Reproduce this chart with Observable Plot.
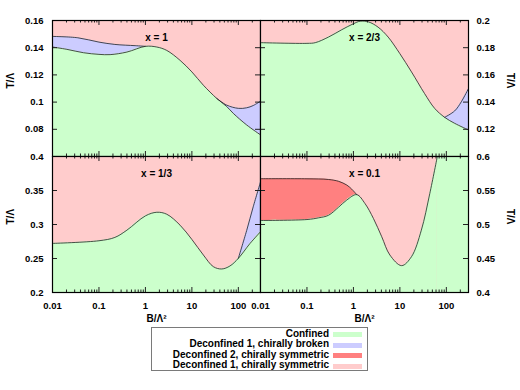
<!DOCTYPE html>
<html><head><meta charset="utf-8">
<script src="https://cdn.jsdelivr.net/npm/d3@7"></script>
<script src="https://cdn.jsdelivr.net/npm/@observablehq/plot@0.6"></script>
<style>
body{margin:0;background:#fff;}
#chart{position:relative;width:520px;height:390px;font-family:"Liberation Sans",Arial,sans-serif;}
#chart svg{position:absolute;left:0;top:0;}
#legend{position:absolute;left:151px;top:327px;width:217px;height:44px;border:1px solid #7a7a7a;box-sizing:border-box;font-weight:bold;font-size:10px;color:#000;}
#legend .row{position:absolute;left:0;width:100%;height:10px;}
#legend .lab{position:absolute;right:38px;top:-1px;white-space:nowrap;line-height:10px;}
#legend .sw{position:absolute;left:181px;top:2.5px;width:29px;height:5px;}
</style></head>
<body><div id="chart"></div>
<script>
// ---- data ----
const phaseNames = ["Confined", "Deconfined 1, chirally broken", "Deconfined 2, chirally symmetric", "Deconfined 1, chirally symmetric"];
const phaseColors = ["#ccffcc", "#ccccff", "#ff8080", "#ffcccc"];

const xTickLabels = [0.01, 0.1, 1, 10, 100];

// x = 1
const x1ConfB = [0.01, 0.0204, 0.0464, 0.1, 0.174, 0.40, 1.0, 1.76, 2.88, 5.57, 10, 17.7, 34.3, 56, 78, 151, 300];
const x1ConfT = [0.1405, 0.1388, 0.1363, 0.1351, 0.1349, 0.1368, 0.1410, 0.1405, 0.1380, 0.1307, 0.1222, 0.1124, 0.1027, 0.0968, 0.0917, 0.0832, 0.0759];
const x1ChiB1 = [0.01, 0.035, 0.1, 0.22, 0.6, 1.0];
const x1ChiT1 = [0.1483, 0.1473, 0.1441, 0.1424, 0.1415, 0.1410];
const x1ChiB2 = [34.3, 56, 100, 151, 210, 300];
const x1ChiT2 = [0.1027, 0.0978, 0.0954, 0.0958, 0.0975, 0.1007];
const x1YTicks = [0.08, 0.1, 0.12, 0.14, 0.16];

// x = 2/3
const x23ConfB = [0.01, 0.1, 0.151, 0.29, 0.56, 1.0, 1.4, 2.1, 3.4, 5.6, 10, 17.8, 34, 56, 92, 151, 300];
const x23ConfT = [0.1837, 0.1832, 0.1837, 0.1878, 0.1932, 0.1976, 0.1995, 0.1990, 0.1951, 0.1878, 0.1756, 0.1622, 0.1463, 0.1354, 0.1288, 0.1244, 0.1195];
const x23ChiB = [92, 151, 210, 300];
const x23ChiT = [0.1288, 0.1335, 0.1402, 0.1500];
const x23YTicks = [0.12, 0.14, 0.16, 0.18, 0.2];

// x = 1/3
const x13ConfB = [0.01, 0.1, 0.22, 0.40, 1.0, 1.76, 2.88, 5.57, 10, 17.7, 29, 44, 66, 100, 178, 300];
const x13ConfT = [0.2722, 0.2761, 0.2810, 0.2917, 0.3127, 0.3180, 0.3151, 0.2990, 0.2780, 0.2551, 0.2380, 0.2346, 0.2390, 0.2502, 0.2720, 0.2893];
const x13ChiB = [100, 151, 209, 300];
const x13ChiT = [0.2502, 0.2910, 0.3260, 0.3624];
const x13YTicks = [0.2, 0.25, 0.3, 0.35, 0.4];

// x = 0.1
const x01ConfB = [0.01, 0.1, 0.178, 0.29, 0.48, 0.72, 1.18, 1.78, 2.7, 4.07, 6.1, 10.9, 17.8, 29, 44, 64];
const x01ConfT = [0.5059, 0.5073, 0.5098, 0.5135, 0.5255, 0.5360, 0.5439, 0.5307, 0.5088, 0.4820, 0.4551, 0.4395, 0.4527, 0.4917, 0.5454, 0.6];
const x01RedB = [0.01, 0.1, 0.29, 0.48, 0.72, 0.92, 1.18];
const x01RedT = [0.5673, 0.5672, 0.5662, 0.5635, 0.5580, 0.5520, 0.5439];
const x01YTicks = [0.4, 0.45, 0.5, 0.55, 0.6];

// ---- helpers ----
const toRows = (B, T, seg = 0) => B.map((b, i) => ({B: b, T: T[i], seg}));
const xDomain = [0.01, 300];
const fmt = d3.format("~g");
const FONT = "Liberation Sans, Arial, sans-serif";
const allLogTicks = d3.scaleLog().domain(xDomain).ticks();
const xMinor = allLogTicks.filter(t => !xTickLabels.some(m => Math.abs(m - t) / m < 1e-9));

function panel(o) {
  const [yMin, yMax] = o.yDomain;
  const innerH = 390 - o.mt - o.mb;
  const innerW = 520 - o.ml - o.mr;
  const decPx = innerW / Math.log10(xDomain[1] / xDomain[0]);
  const yLen = (px) => (yMax - yMin) * px / innerH;
  const xFac = (px) => Math.pow(10, px / decPx);
  const conf = toRows(o.confB, o.confT);
  const extra = o.extra.flatMap(([B, T], i) => toRows(B, T, i));
  const curve = "catmull-rom";
  const lineStyle = {stroke: "#222", strokeWidth: 0.8};
  const tickStyle = {stroke: "#222", strokeWidth: 1};
  const marks = [
    Plot.frame({fill: phaseColors[3]}),
    Plot.areaY(extra, {x: "B", y1: () => yMin, y2: "T", z: "seg", fill: o.extraFill, curve, clip: true}),
    Plot.areaY(conf, {x: "B", y1: () => yMin, y2: "T", fill: phaseColors[0], curve, clip: true}),
  ];
  if (o.exitTop) {
    marks.push(Plot.rect([conf[conf.length - 1]], {x1: "B", x2: () => xDomain[1], y1: () => yMin, y2: () => yMax, fill: phaseColors[0]}));
  }
  marks.push(
    Plot.line(conf, {x: "B", y: "T", curve, clip: true, ...lineStyle}),
    Plot.line(extra, {x: "B", y: "T", z: "seg", curve, clip: true, ...lineStyle}),
    // x ticks (inward, top and bottom)
    Plot.ruleX(xTickLabels, {x: d => d, y1: () => yMax, y2: () => yMax - yLen(5), ...tickStyle}),
    Plot.ruleX(xTickLabels, {x: d => d, y1: () => yMin, y2: () => yMin + yLen(5), ...tickStyle}),
    Plot.ruleX(xMinor, {x: d => d, y1: () => yMax, y2: () => yMax - yLen(2.5), ...tickStyle}),
    Plot.ruleX(xMinor, {x: d => d, y1: () => yMin, y2: () => yMin + yLen(2.5), ...tickStyle}),
    // y ticks (inward, left and right)
    Plot.ruleY(o.yTicks, {y: d => d, x1: () => xDomain[0], x2: () => xDomain[0] * xFac(5), ...tickStyle}),
    Plot.ruleY(o.yTicks, {y: d => d, x1: () => xDomain[1], x2: () => xDomain[1] / xFac(5), ...tickStyle}),
    Plot.frame({stroke: "#000", strokeWidth: 1.2}),
    Plot.text([o.label], {frameAnchor: "top", dy: 13, fontWeight: "bold", fontSize: 10, fill: "#000"})
  );
  if (o.yLeft) {
    marks.push(
      Plot.text(o.yTicks, {y: d => d, text: d => fmt(d), frameAnchor: "left", dx: -9, textAnchor: "end", fontWeight: "bold", fontSize: 9.5, fill: "#000"}),
      Plot.text(["T/Λ"], {frameAnchor: "left", dx: -42, rotate: -90, fontWeight: "bold", fontSize: 10, fill: "#000"})
    );
  } else {
    marks.push(
      Plot.text(o.yTicks, {y: d => d, text: d => fmt(d), frameAnchor: "right", dx: 8, textAnchor: "start", fontWeight: "bold", fontSize: 9.5, fill: "#000"}),
      Plot.text(["T/Λ"], {frameAnchor: "right", dx: 42, rotate: 90, fontWeight: "bold", fontSize: 10, fill: "#000"})
    );
  }
  if (o.xBottom) {
    marks.push(
      Plot.text(xTickLabels, {x: d => d, text: d => fmt(d), frameAnchor: "bottom", dy: 16, fontWeight: "bold", fontSize: 9.5, fill: "#000"}),
      Plot.text(["B/Λ²"], {frameAnchor: "bottom", dy: 29, fontWeight: "bold", fontSize: 10, fill: "#000"})
    );
  }
  return Plot.plot({
    width: 520, height: 390,
    marginLeft: o.ml, marginRight: o.mr, marginTop: o.mt, marginBottom: o.mb,
    style: {background: "none", fontFamily: FONT, overflow: "visible"},
    x: {type: "log", domain: xDomain, axis: null},
    y: {domain: o.yDomain, axis: null},
    marks
  });
}

const chart = document.getElementById("chart");
const L = 52, R = 52, TOP = 20, MID = 156, BOT = 98;
chart.append(panel({
  label: "x = 1", confB: x1ConfB, confT: x1ConfT,
  extra: [[x1ChiB1, x1ChiT1], [x1ChiB2, x1ChiT2]], extraFill: phaseColors[1],
  yDomain: [0.06, 0.16], yTicks: x1YTicks, yLeft: true, xBottom: false,
  ml: L, mr: 260, mt: TOP, mb: 390 - MID
}));
chart.append(panel({
  label: "x = 2/3", confB: x23ConfB, confT: x23ConfT,
  extra: [[x23ChiB, x23ChiT]], extraFill: phaseColors[1],
  yDomain: [0.1, 0.2], yTicks: x23YTicks, yLeft: false, xBottom: false,
  ml: 260, mr: R, mt: TOP, mb: 390 - MID
}));
chart.append(panel({
  label: "x = 1/3", confB: x13ConfB, confT: x13ConfT,
  extra: [[x13ChiB, x13ChiT]], extraFill: phaseColors[1],
  yDomain: [0.2, 0.4], yTicks: x13YTicks, yLeft: true, xBottom: true,
  ml: L, mr: 260, mt: MID, mb: BOT
}));
chart.append(panel({
  label: "x = 0.1", confB: x01ConfB, confT: x01ConfT,
  extra: [[x01RedB, x01RedT]], extraFill: phaseColors[2], exitTop: true,
  yDomain: [0.4, 0.6], yTicks: x01YTicks, yLeft: false, xBottom: true,
  ml: 260, mr: R, mt: MID, mb: BOT
}));

// legend
const legend = document.createElement("div");
legend.id = "legend";
phaseNames.forEach((name, i) => {
  const row = document.createElement("div");
  row.className = "row";
  row.style.top = (1.5 + i * 10.6) + "px";
  const lab = document.createElement("span");
  lab.className = "lab"; lab.textContent = name;
  const sw = document.createElement("span");
  sw.className = "sw"; sw.style.background = phaseColors[i];
  row.append(lab, sw);
  legend.append(row);
});
chart.append(legend);
</script>
</body></html>
